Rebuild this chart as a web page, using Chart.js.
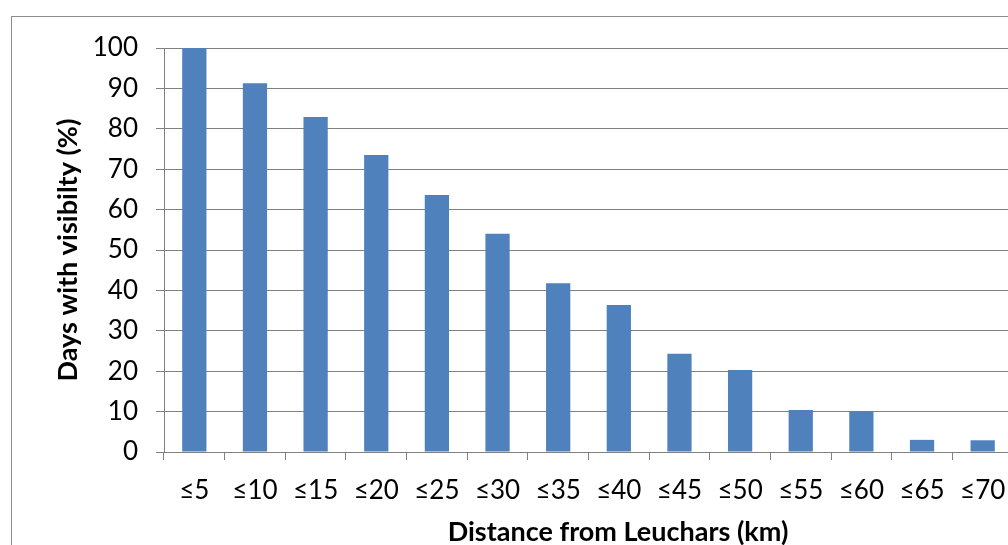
<!DOCTYPE html>
<html>
<head>
<meta charset="utf-8">
<script src="https://cdn.jsdelivr.net/npm/chart.js@4/dist/chart.umd.min.js"></script>
<style>
  html, body { margin: 0; padding: 0; background: #fff; overflow: hidden; }
  #wrap { position: relative; width: 1040px; height: 545px; }
</style>
</head>
<body>
<div id="wrap"><canvas id="graficoVisibilidade"></canvas></div>
<script>
// Dados
const categorias = ['≤5', '≤10', '≤15', '≤20', '≤25', '≤30', '≤35', '≤40', '≤45', '≤50', '≤55', '≤60', '≤65', '≤70'];
const diasVisibilidade = [100, 91.3, 82.9, 73.5, 63.6, 54, 41.8, 36.4, 24.3, 20.3, 10.4, 10.1, 3.0, 2.9];
const ticksY = [0, 10, 20, 30, 40, 50, 60, 70, 80, 90, 100];

const corGrade = '#808080';
const fonte = 'Lato, "Open Sans", sans-serif';

// Moldura externa e título do eixo X (centrado na área original, que é cortada à direita)
const extras = {
    id: 'extras',
    beforeDraw(chart) {
        const c = chart.ctx;
        c.save();
        c.strokeStyle = '#8c8c8c';
        c.lineWidth = 1;
        c.strokeRect(11.5, 16.5, 3000, 3000);
        c.restore();
    },
    afterDraw(chart) {
        const c = chart.ctx;
        c.save();
        c.fillStyle = '#000';
        c.font = 'bold 27px ' + fonte;
        c.textAlign = 'center';
        c.textBaseline = 'middle';
        c.fillText('Distance from Leuchars (km)', 618, 532);
        c.restore();
    }
};

const ctx = document.getElementById('graficoVisibilidade').getContext('2d');
const grafico = new Chart(ctx, {
    type: 'bar',
    data: {
        labels: categorias,
        datasets: [{
            label: 'Days with visibilty (%)',
            data: diasVisibilidade,
            backgroundColor: '#4F81BD',
            borderWidth: 0,
            barPercentage: 0.4,
            categoryPercentage: 1
        }]
    },
    options: {
        responsive: true,
        maintainAspectRatio: false,
        animation: false,
        layout: { padding: { left: 0, right: 27, top: 48, bottom: 0 } },
        plugins: {
            legend: { display: false },
            tooltip: { enabled: false }
        },
        scales: {
            x: {
                grid: {
                    display: true,
                    offset: true,
                    drawOnChartArea: false,
                    drawTicks: true,
                    tickLength: 8,
                    color: corGrade
                },
                border: { display: true, color: corGrade },
                ticks: {
                    color: '#000',
                    font: { family: fonte, size: 26 },
                    padding: 15,
                    maxRotation: 0,
                    autoSkip: false
                },
                afterFit(scale) { scale.height = 93; }
            },
            y: {
                min: 0,
                max: 100,
                afterBuildTicks(scale) { scale.ticks = ticksY.map(v => ({ value: v })); },
                grid: {
                    color: corGrade,
                    tickLength: 8,
                    drawTicks: true
                },
                border: { display: true, color: corGrade },
                ticks: {
                    color: '#000',
                    font: { family: fonte, size: 26 },
                    padding: 18
                },
                title: {
                    display: true,
                    text: 'Days with visibilty (%)',
                    color: '#000',
                    font: { family: fonte, size: 27, weight: 'bold' },
                    padding: { top: 52, bottom: 0 }
                },
                afterFit(scale) { scale.width = 164; }
            }
        }
    },
    plugins: [extras]
});
</script>
</body>
</html>
